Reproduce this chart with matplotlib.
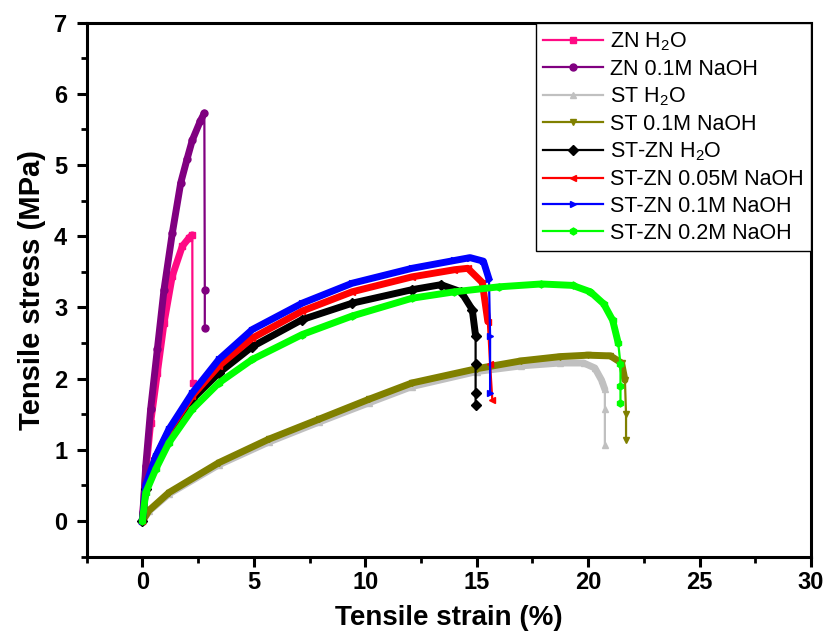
import matplotlib.pyplot as plt

plt.rcParams['font.family'] = ['Liberation Sans', 'DejaVu Sans']
plt.rcParams['mathtext.default'] = 'regular'

# ZN H2O
zn_h2o_x = [0, 0.15, 0.37, 0.67, 0.97, 1.34, 1.79, 2.1, 2.24, 2.25]
zn_h2o_y = [0, 0.68, 1.38, 2.08, 2.78, 3.44, 3.86, 3.98, 4.02, 1.94]
# ZN 0.1M NaOH
zn_naoh_x = [0, 0.15, 0.37, 0.67, 0.97, 1.34, 1.72, 2.0, 2.24, 2.6, 2.78, 2.8, 2.8]
zn_naoh_y = [0, 0.77, 1.57, 2.41, 3.25, 4.04, 4.75, 5.08, 5.35, 5.62, 5.73, 3.25, 2.71]
# ST H2O
st_h2o_x = [0, 0.3, 1.19, 3.43, 5.67, 7.92, 10.16, 12.1, 15, 17, 18.75, 19.8, 20.3, 20.6, 20.75, 20.75, 20.75]
st_h2o_y = [0, 0.14, 0.38, 0.79, 1.11, 1.39, 1.66, 1.89, 2.10, 2.18, 2.22, 2.22, 2.15, 1.98, 1.85, 1.57, 1.07]
# ST 0.1M NaOH
st_naoh_x = [0, 0.3, 1.19, 3.43, 5.67, 7.92, 10.16, 12.1, 15, 17, 18.75, 20, 21.0, 21.5, 21.65, 21.7, 21.7]
st_naoh_y = [0, 0.15, 0.40, 0.82, 1.15, 1.43, 1.71, 1.94, 2.14, 2.25, 2.31, 2.33, 2.32, 2.22, 1.98, 1.5, 1.14]
# ST-ZN H2O
stzn_h2o_x = [0, 0.15, 0.6, 1.19, 2.24, 3.43, 4.93, 7.17, 9.41, 12.1, 13.4, 14.3, 14.8, 14.95, 14.95, 14.95, 14.95]
stzn_h2o_y = [0, 0.45, 0.88, 1.24, 1.71, 2.08, 2.45, 2.83, 3.06, 3.25, 3.32, 3.22, 2.97, 2.6, 2.2, 1.8, 1.63]
# ST-ZN 0.05M NaOH
stzn_005_x = [0, 0.15, 0.6, 1.19, 2.24, 3.43, 4.93, 7.17, 9.41, 12.1, 14.0, 14.6, 15.25, 15.5, 15.6, 15.7]
stzn_005_y = [0, 0.47, 0.9, 1.27, 1.76, 2.18, 2.57, 2.95, 3.22, 3.43, 3.53, 3.55, 3.35, 2.8, 2.2, 1.7]
# ST-ZN 0.1M NaOH
stzn_01_x = [0, 0.15, 0.6, 1.19, 2.24, 3.43, 4.93, 7.17, 9.41, 12.1, 14.0, 14.7, 15.3, 15.55, 15.6, 15.6]
stzn_01_y = [0, 0.5, 0.91, 1.29, 1.80, 2.27, 2.69, 3.06, 3.34, 3.55, 3.66, 3.70, 3.65, 3.4, 2.6, 1.8]
# ST-ZN 0.2M NaOH
stzn_02_x = [0, 0.15, 0.6, 1.19, 2.24, 3.43, 4.93, 7.17, 9.41, 12.1, 14.0, 16.0, 17.9, 19.3, 20.1, 20.7, 21.1, 21.35, 21.45, 21.45, 21.45]
stzn_02_y = [0, 0.4, 0.73, 1.10, 1.57, 1.94, 2.27, 2.62, 2.88, 3.13, 3.22, 3.29, 3.33, 3.31, 3.22, 3.05, 2.82, 2.5, 2.2, 1.9, 1.66]

labels = ["ZN H$_2$O", "ZN 0.1M NaOH", "ST H$_2$O", "ST 0.1M NaOH",
          "ST-ZN H$_2$O", "ST-ZN 0.05M NaOH", "ST-ZN 0.1M NaOH", "ST-ZN 0.2M NaOH"]

# colour, marker, index where the dense part ends
series = [
    (zn_h2o_x, zn_h2o_y, "#FF0A84", "s", 8),
    (zn_naoh_x, zn_naoh_y, "#800080", "o", 10),
    (st_h2o_x, st_h2o_y, "#C0C0C0", "^", 14),
    (st_naoh_x, st_naoh_y, "#808000", "v", 14),
    (stzn_h2o_x, stzn_h2o_y, "#000000", "D", 13),
    (stzn_005_x, stzn_005_y, "#FF0000", "<", 13),
    (stzn_01_x, stzn_01_y, "#0000FF", ">", 13),
    (stzn_02_x, stzn_02_y, "#00FF00", "h", 17),
]

fig = plt.figure(figsize=(8.27, 6.44), dpi=100)
ax = fig.add_axes([0.1048, 0.1356, 0.8759, 0.8292])

for (x, y, c, m, k), lab in zip(series, labels):
    # dense measured part looks like a thick band
    ax.plot(x[:k + 1], y[:k + 1], color=c, linewidth=5, solid_capstyle='round', solid_joinstyle='round')
    ax.plot(x, y, color=c, linewidth=1.6, marker=m, markersize=5, label=lab)

ax.set_xlim(-2.5, 30)
ax.set_ylim(-0.5, 7)
ax.set_xticks(range(0, 31, 5))
ax.set_xticks([i * 2.5 for i in range(-1, 13)], minor=True)
ax.set_yticks(range(0, 8))
ax.set_yticks([i * 0.5 for i in range(-1, 15)], minor=True)

for s in ax.spines.values():
    s.set_linewidth(2.2)
ax.tick_params(which='major', direction='out', length=7, width=2.2, labelsize=17, top=False, right=False)
ax.tick_params(axis='y', which='major', pad=7)
ax.tick_params(which='minor', direction='out', length=4, width=2, top=False, right=False)
for t in ax.get_xticklabels() + ax.get_yticklabels():
    t.set_fontweight('bold')

ax.set_xlabel("Tensile strain (%)", fontsize=20, fontweight='bold', labelpad=8)
ax.set_ylabel("Tensile stress (MPa)", fontsize=21, fontweight='bold', labelpad=6)

leg = ax.legend(loc='upper right', fontsize=15.5, frameon=True, fancybox=False, framealpha=1,
                edgecolor='black', borderaxespad=0, handlelength=2.8, labelspacing=0.27,
                handletextpad=0.3, borderpad=0.35)
leg.get_frame().set_linewidth(1)

plt.savefig("out.png", dpi=100)
